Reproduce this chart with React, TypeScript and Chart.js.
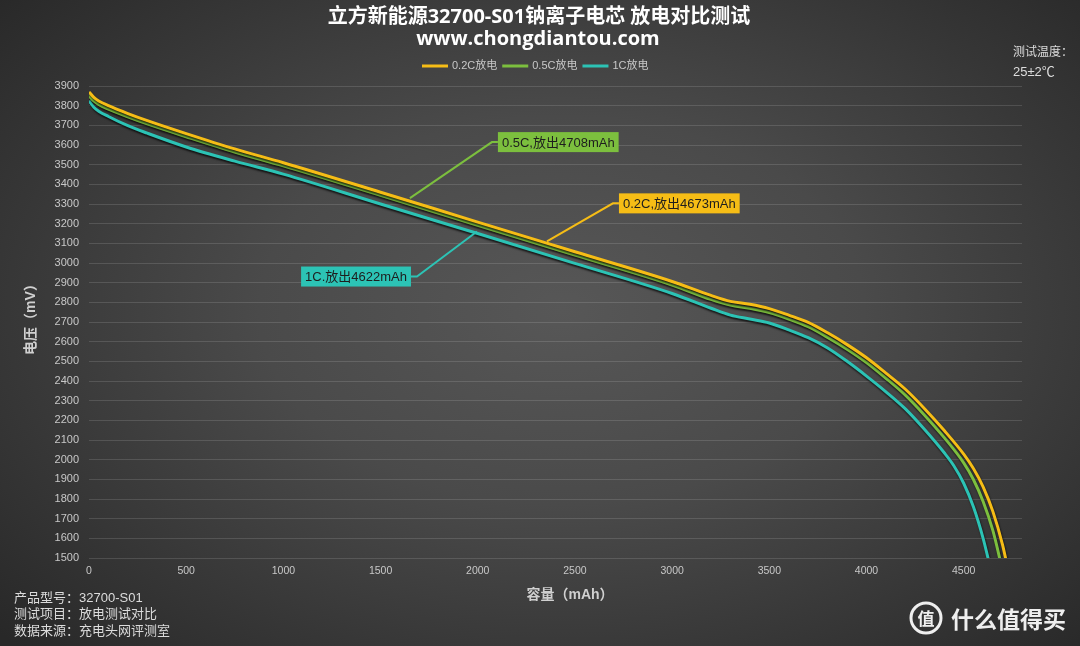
import React, { useEffect, useRef } from 'react';
import { Chart, registerables } from 'chart.js';
Chart.register(...registerables);

// ---- data ----
const seriesNames = ['0.2C放电', '0.5C放电', '1C放电'];
const seriesColors = ['#f6bd16', '#7cbf3e', '#2cc3b5'];

const cap02 = [0, 25, 50, 100, 200, 300, 500, 750, 1000, 1500, 2000, 2500, 3000, 3200, 3300, 3400, 3500, 3600, 3700, 3800, 3900, 4000, 4100, 4200, 4300, 4400, 4500, 4550, 4600, 4650, 4700, 4730];
const volt02 = [3870, 3842, 3824, 3800, 3760, 3724, 3658, 3580, 3510, 3360, 3208, 3057, 2906, 2835, 2805, 2790, 2768, 2735, 2698, 2645, 2585, 2518, 2440, 2358, 2258, 2148, 2028, 1955, 1862, 1737, 1567, 1432];

const cap05 = [0, 25, 50, 100, 200, 300, 500, 750, 1000, 1500, 2000, 2500, 3000, 3200, 3300, 3400, 3500, 3600, 3700, 3800, 3900, 4000, 4100, 4200, 4300, 4400, 4500, 4550, 4600, 4650, 4690, 4710];
const volt05 = [3851, 3824, 3806, 3782, 3743, 3707, 3642, 3564, 3494, 3344, 3192, 3040, 2888, 2815, 2786, 2770, 2748, 2715, 2676, 2622, 2562, 2494, 2414, 2328, 2225, 2112, 1984, 1899, 1787, 1640, 1478, 1390];

const cap1 = [0, 25, 50, 100, 200, 300, 500, 750, 1000, 1500, 2000, 2500, 3000, 3200, 3300, 3400, 3500, 3600, 3700, 3800, 3900, 4000, 4100, 4200, 4300, 4400, 4450, 4500, 4550, 4600, 4630];
const volt1 = [3825, 3792, 3772, 3745, 3698, 3660, 3590, 3518, 3452, 3300, 3150, 2998, 2845, 2770, 2735, 2715, 2695, 2660, 2620, 2568, 2500, 2425, 2345, 2258, 2152, 2035, 1968, 1880, 1760, 1600, 1480];

const xMin = 0, xMax = 4800;
const xTickValues = [0, 500, 1000, 1500, 2000, 2500, 3000, 3500, 4000, 4500];
const yMin = 1500, yMax = 3900, yStep = 100;

const titleText = '立方新能源32700-S01钠离子电芯 放电对比测试';
const subtitleText = 'www.chongdiantou.com';
const xTitle = '容量（mAh）';
const yTitle = '电压（mV）';
const tempLines = ['测试温度：', '25±2℃'];
const infoLines = ['产品型号：32700-S01', '测试项目：放电测试对比', '数据来源：充电头网评测室'];

const annoTexts = ['0.5C,放出4708mAh', '0.2C,放出4673mAh', '1C.放出4622mAh'];
const annoColors = ['#7cbf3e', '#f6bd16', '#2cc3b5'];
const annoAnchorCap = [1651, 2356, 1996];
const annoAnchorVolt = [3330, 3110, 3160];

const FONT = "'Liberation Sans', 'Noto Sans CJK SC', sans-serif";
const CJK = "'Noto Sans CJK SC', sans-serif";

function pts(xs: number[], ys: number[]) {
  return xs.map((x, i) => ({ x, y: ys[i] }));
}

const shadowPlugin = {
  id: 'lineShadow',
  beforeDatasetDraw(chart: any) {
    const ctx = chart.ctx;
    ctx.save();
    ctx.shadowColor = 'rgba(0,0,0,0.75)';
    ctx.shadowBlur = 2;
    ctx.shadowOffsetX = 1;
    ctx.shadowOffsetY = 2;
  },
  afterDatasetDraw(chart: any) {
    chart.ctx.restore();
  },
};

const decorPlugin = {
  id: 'decor',
  afterDatasetsDraw(chart: any) {
    const ctx = chart.ctx;
    const xs = chart.scales.x;
    const ys = chart.scales.y;
    ctx.save();
    const elbows = [[82, -56], [66, -38], [-60, 45]];
    ctx.font = `13px ${FONT}`;
    for (let i = 0; i < annoTexts.length; i++) {
      const ax = xs.getPixelForValue(annoAnchorCap[i]);
      const ay = ys.getPixelForValue(annoAnchorVolt[i]);
      const ex = ax + elbows[i][0];
      const ey = ay + elbows[i][1];
      const dir = elbows[i][0] > 0 ? 1 : -1;
      const tw = ctx.measureText(annoTexts[i]).width;
      const bw = tw + 8;
      const bh = 20;
      const bx = dir > 0 ? ex + 6 : ex - 6 - bw;
      ctx.strokeStyle = annoColors[i];
      ctx.lineWidth = 2;
      ctx.beginPath();
      ctx.moveTo(ax, ay);
      ctx.lineTo(ex, ey);
      ctx.lineTo(dir > 0 ? bx : bx + bw, ey);
      ctx.stroke();
      ctx.fillStyle = annoColors[i];
      ctx.fillRect(bx, ey - bh / 2, bw, bh);
      ctx.fillStyle = '#1e1e1e';
      ctx.textAlign = 'left';
      ctx.textBaseline = 'middle';
      ctx.fillText(annoTexts[i], bx + 4, ey + 1);
    }
    ctx.restore();
  },
  afterDraw(chart: any) {
    const ctx = chart.ctx;
    const area = chart.chartArea;
    ctx.save();
    ctx.textBaseline = 'middle';
    ctx.fillStyle = '#ffffff';
    ctx.textAlign = 'center';
    ctx.font = `bold 20px 'Open Sans', ${CJK}`;
    ctx.fillText(titleText, 539, 17);
    ctx.fillText(subtitleText, 538, 39);
    // legend
    ctx.font = `11px ${FONT}`;
    let lx = 422;
    for (let i = 0; i < seriesNames.length; i++) {
      ctx.strokeStyle = seriesColors[i];
      ctx.lineWidth = 3;
      ctx.beginPath();
      ctx.moveTo(lx, 66);
      ctx.lineTo(lx + 26, 66);
      ctx.stroke();
      ctx.fillStyle = '#c8c8c8';
      ctx.textAlign = 'left';
      ctx.fillText(seriesNames[i], lx + 30, 66);
      lx += 30 + ctx.measureText(seriesNames[i]).width + 5;
    }
    // temperature
    ctx.fillStyle = '#dcdcdc';
    ctx.font = `12px ${FONT}`;
    ctx.textAlign = 'left';
    ctx.fillText(tempLines[0], 1013, 53);
    ctx.font = `13px ${FONT}`;
    ctx.fillText(tempLines[1], 1013, 72);
    // info
    ctx.font = `13px ${FONT}`;
    ctx.fillStyle = '#dcdcdc';
    infoLines.forEach((t, i) => ctx.fillText(t, 14, 598 + i * 16.5));
    // axis titles
    ctx.fillStyle = '#d0d0d0';
    ctx.font = `bold 14px ${FONT}`;
    ctx.textAlign = 'center';
    ctx.fillText(xTitle, 570, 595);
    ctx.save();
    ctx.translate(31, (area.top + area.bottom) / 2 - 6);
    ctx.rotate(-Math.PI / 2);
    ctx.fillText(yTitle, 0, 0);
    ctx.restore();
    // watermark
    ctx.strokeStyle = 'rgba(255,255,255,0.92)';
    ctx.lineWidth = 3;
    ctx.beginPath();
    ctx.arc(926, 618, 15, 0, Math.PI * 2);
    ctx.stroke();
    ctx.fillStyle = 'rgba(255,255,255,0.92)';
    ctx.font = `bold 17px ${CJK}`;
    ctx.textAlign = 'center';
    ctx.fillText('值', 926, 619);
    ctx.font = `bold 23px ${CJK}`;
    ctx.textAlign = 'left';
    ctx.fillText('什么值得买', 951, 619);
    ctx.restore();
  },
};

export default function App() {
  const ref = useRef<HTMLCanvasElement>(null);
  useEffect(() => {
    if (!ref.current) return;
    const chart = new Chart(ref.current, {
      type: 'line',
      data: {
        datasets: [
          { label: seriesNames[0], data: pts(cap02, volt02), borderColor: seriesColors[0], backgroundColor: seriesColors[0] },
          { label: seriesNames[1], data: pts(cap05, volt05), borderColor: seriesColors[1], backgroundColor: seriesColors[1] },
          { label: seriesNames[2], data: pts(cap1, volt1), borderColor: seriesColors[2], backgroundColor: seriesColors[2] },
        ].map((d) => ({ ...d, borderWidth: 3, pointRadius: 0, cubicInterpolationMode: 'monotone' as const, fill: false })),
      },
      options: {
        responsive: false,
        animation: false,
        devicePixelRatio: 1,
        layout: { padding: { top: 86, left: 0, right: 58, bottom: 0 } },
        plugins: { legend: { display: false }, title: { display: false }, tooltip: { enabled: false } },
        scales: {
          x: {
            type: 'linear',
            min: xMin,
            max: xMax,
            border: { display: false },
            grid: { display: false, drawTicks: false },
            afterBuildTicks: (s: any) => { s.ticks = xTickValues.map((v) => ({ value: v })); },
            ticks: { autoSkip: false, color: '#c8c8c8', font: { size: 10.5, family: FONT }, padding: 7, maxRotation: 0, callback: (v: any) => String(v) },
            afterFit: (s: any) => { s.height = 88; },
          },
          y: {
            type: 'linear',
            min: yMin,
            max: yMax,
            border: { display: false },
            grid: { color: 'rgba(255,255,255,0.13)', lineWidth: 1, drawTicks: false },
            ticks: { stepSize: yStep, autoSkip: false, color: '#c8c8c8', font: { size: 11, family: FONT }, padding: 10, callback: (v: any) => String(v) },
            afterFit: (s: any) => { s.width = 89; },
          },
        },
      } as any,
      plugins: [shadowPlugin, decorPlugin],
    });
    return () => chart.destroy();
  }, []);
  return (
    <div
      style={{
        position: 'fixed',
        left: 0,
        top: 0,
        width: 1080,
        height: 646,
        background: 'radial-gradient(ellipse 70% 75% at 52% 48%, #575757 0%, #4a4a4a 40%, #363636 75%, #282828 100%)',
      }}
    >
      <canvas ref={ref} width={1080} height={646} style={{ display: 'block' }} />
    </div>
  );
}
